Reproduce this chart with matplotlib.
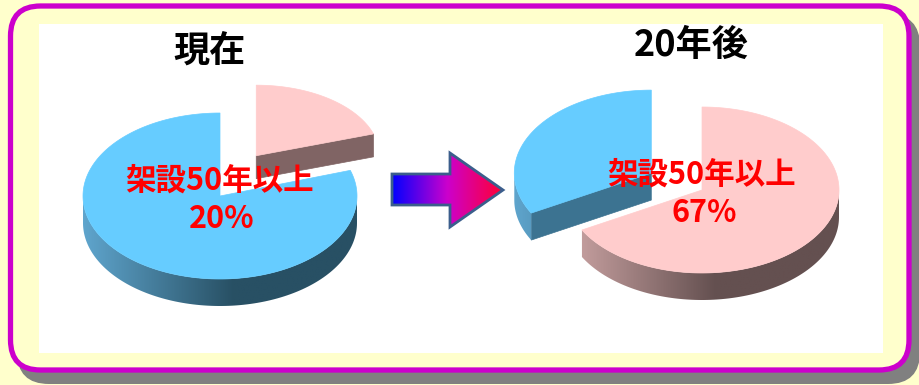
import numpy as np
import matplotlib
matplotlib.use("Agg")
import matplotlib.pyplot as plt
from matplotlib.patches import Polygon, FancyBboxPatch, Rectangle
from matplotlib.colors import LinearSegmentedColormap

plt.rcParams['font.family'] = ['Noto Sans CJK JP', 'DejaVu Sans']

# --- datos ---
titles = ['現在', '20年後']
label = '架設50年以上'
old_pct = [20, 67]      # puentes con 50 años o más
young_pct = [80, 33]

# --- estilo ---
# desplazamiento (x, y) de la porcion separada, en fracciones del radio
explode_old = [(0.45, 0.60), (0.0, 0.0)]
explode_young = [(0.0, 0.0), (0.43, 0.40)]
# la porcion separada se ve algo mas pequena (perspectiva)
scale_old = [(0.90, 0.85), (1.0, 1.0)]
scale_young = [(1.0, 1.0), (1.0, 1.0)]

pink_top, blue_top = '#FFCCCC', '#66CCFF'
pink_side = ('#CDA5A5', '#645050')
blue_side = ('#5FA5CD', '#285064')
pink_face, blue_face = '#806464', '#3C7391'

centers = [(220, 196), (702, 190)]
A, B, DEPTH = 137, 83, 27

fig = plt.figure(figsize=(9.2, 3.85), dpi=100, facecolor='#FFFFCC')
ax = fig.add_axes([0, 0, 1, 1])
ax.set_facecolor('#FFFFCC')

# marco
ax.add_patch(FancyBboxPatch((17, 14), 903, 370, boxstyle='round,pad=0,rounding_size=32',
                            fc='#808080', ec='none', zorder=1))
ax.add_patch(FancyBboxPatch((10.5, 6), 898.5, 364, boxstyle='round,pad=0,rounding_size=30',
                            fc='#FFFFCC', ec='#CC00CC', lw=3.8, zorder=2))
ax.add_patch(Rectangle((39, 24), 844, 329, fc='white', ec='none', zorder=3))

z = [10]


def nz():
    z[0] += 1
    return z[0]


def pt(cx, cy, t, a, b):
    r = np.radians(t)
    return cx + a * np.sin(r), cy - b * np.cos(r)


def gradient_fill(pts, x0, x1, c_light, c_dark):
    cm = LinearSegmentedColormap.from_list('g', [(0, c_light), (0.55, c_dark), (1, c_dark)])
    poly = Polygon(pts, closed=True, fc='none', ec='none', zorder=nz())
    ax.add_patch(poly)
    grad = np.linspace(0, 1, 256)[None, :]
    ys = [p[1] for p in pts]
    im = ax.imshow(grad, cmap=cm, extent=[x0, x1, max(ys) + 2, min(ys) - 2],
                   aspect='auto', zorder=poly.get_zorder(), interpolation='bilinear')
    im.set_clip_path(poly)


def pie3d(cx, cy, values, tops, sides, faces, explode, scales):
    total = float(sum(values))
    start = 0.0
    slices = []
    for v, tc, sc, fc, ex, sf in zip(values, tops, sides, faces, explode, scales):
        t0, t1 = start, start + 360.0 * v / total
        start = t1
        mid = np.radians((t0 + t1) / 2)
        dx, dy = A * ex[0] * np.sin(mid), -B * ex[1] * np.cos(mid)
        slices.append((dy, t0, t1, cx + dx, cy + dy, tc, sc, fc, A * sf[0], B * sf[1], DEPTH * sf[1]))
    slices.sort(key=lambda s: s[0])
    for _, t0, t1, sx, sy, tc, sc, fc, a, b, d in slices:
        # caras radiales
        for t, vis in ((t1, np.sin(np.radians(t1)) > 1e-6), (t0, np.sin(np.radians(t0)) < -1e-6)):
            if vis:
                px, py = pt(sx, sy, t, a, b)
                face = [(sx, sy), (px, py), (px, py + d), (sx, sy + d)]
                ax.add_patch(Polygon(face, closed=True, fc=fc, ec=fc, lw=0.5, zorder=nz()))
        # lado exterior
        a0, a1 = max(t0, 90), min(t1, 270)
        if a1 > a0:
            ts = np.linspace(a0, a1, 120)
            arc = [pt(sx, sy, t, a, b) for t in ts]
            side = arc + [(x, y + d) for x, y in arc[::-1]]
            gradient_fill(side, sx - a, sx + a, sc[0], sc[1])
        # cara superior
        ts = np.linspace(t0, t1, 200)
        top = [(sx, sy)] + [pt(sx, sy, t, a, b) for t in ts]
        ax.add_patch(Polygon(top, closed=True, fc=tc, ec=tc, lw=0.5, zorder=nz()))


for i, (cx, cy) in enumerate(centers):
    pie3d(cx, cy, [old_pct[i], young_pct[i]], [pink_top, blue_top],
          [pink_side, blue_side], [pink_face, blue_face],
          [explode_old[i], explode_young[i]], [scale_old[i], scale_young[i]])
    ax.text(cx - 11, cy - 145, titles[i], fontsize=26, fontweight='bold',
            ha='center', va='center', zorder=50)
    ax.text(cx, cy - 15, label, fontsize=22, fontweight='bold', color='#FF0000',
            ha='center', va='center', zorder=50)
    ax.text(cx + 2, cy + 23, f'{old_pct[i]}%', fontsize=22, fontweight='bold', color='#FF0000',
            ha='center', va='center', zorder=50)

# flecha
arrow = [(392, 174), (450, 174), (450, 153), (503, 190), (450, 227), (450, 205), (392, 205)]
arr_cm = LinearSegmentedColormap.from_list('a', ['#0000FF', '#CC00CC', '#FF0033'])
arr_poly = Polygon(arrow, closed=True, fc='none', ec='#3B5E8C', lw=2, zorder=41)
ax.add_patch(arr_poly)
im = ax.imshow(np.linspace(0, 1, 256)[None, :], cmap=arr_cm, extent=[392, 503, 228, 152],
               aspect='auto', zorder=40)
im.set_clip_path(arr_poly)

ax.set_xlim(0, 920)
ax.set_ylim(385, 0)
ax.axis('off')
fig.savefig('out.png', dpi=100, facecolor=fig.get_facecolor())
